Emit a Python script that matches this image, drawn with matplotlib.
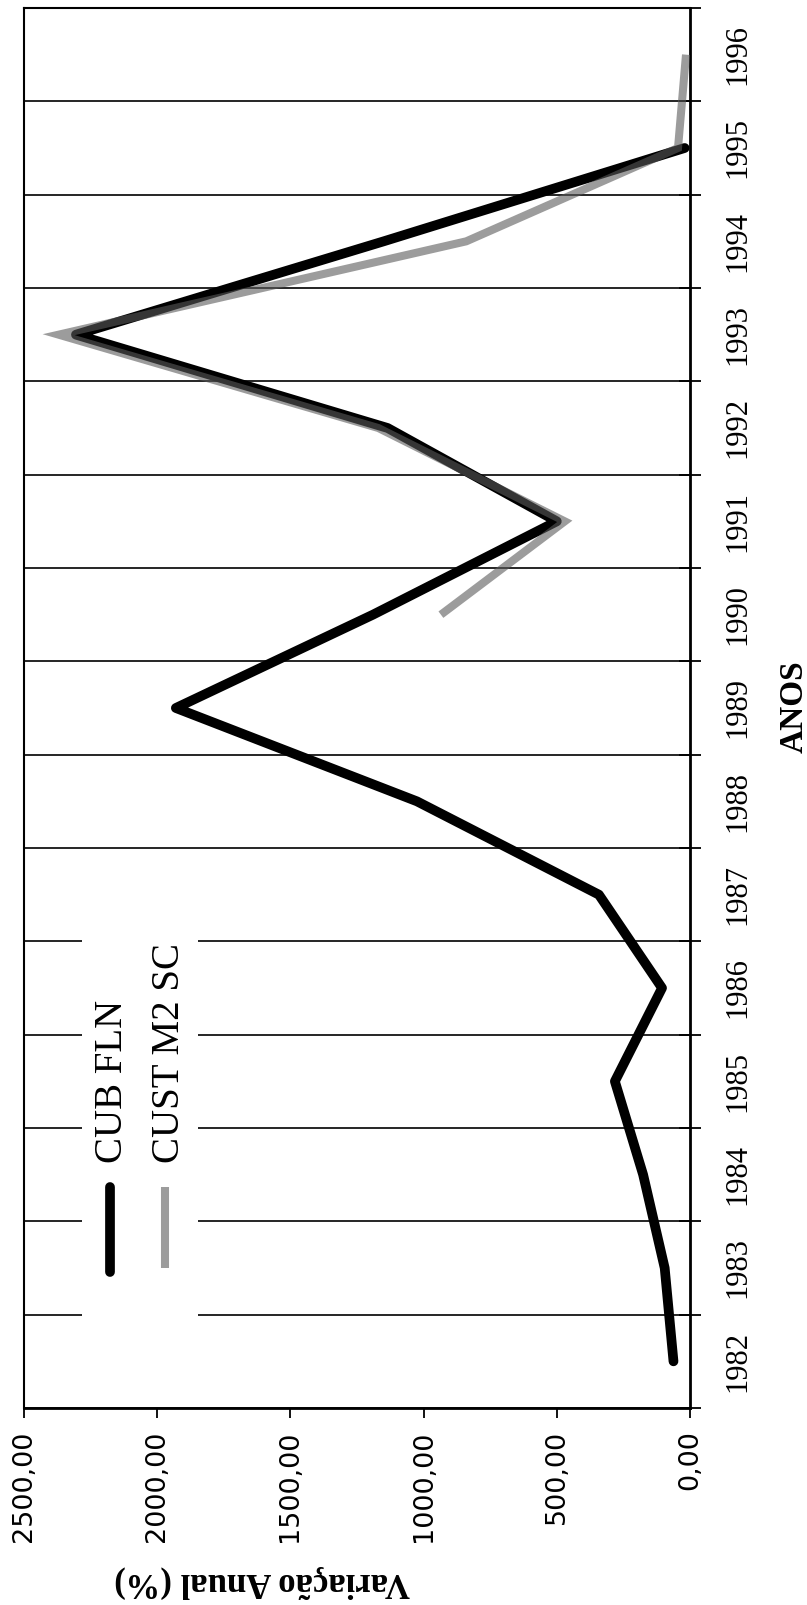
import numpy as np
import matplotlib
matplotlib.use("Agg")
import matplotlib.pyplot as plt
from matplotlib.patches import Rectangle

# ---- data ----
years = [1982, 1983, 1984, 1985, 1986, 1987, 1988, 1989, 1990, 1991, 1992, 1993, 1994, 1995, 1996]
cub_fln = [62, 95, 176, 282, 105, 342, 1025, 1930, 1190, 500, 1135, 2305, 1150, 20, np.nan]
cust_m2_sc = [np.nan, np.nan, np.nan, np.nan, np.nan, np.nan, np.nan, np.nan,
              935, 470, 1170, 2370, 840, 45, 15]
value_ticks = [0, 500, 1000, 1500, 2000, 2500]
value_labels = ["0,00", "500,00", "1000,00", "1500,00", "2000,00", "2500,00"]
series_names = ["CUB FLN", "CUST M2 SC"]

W, H = 807, 1605
fig = plt.figure(figsize=(W / 100, H / 100), dpi=100)
fig.patch.set_facecolor("white")
ax = fig.add_axes([24 / W, (H - 1408) / H, 666 / W, 1400 / H])

serif = ["Liberation Serif", "DejaVu Serif"]
gray = "#5a5a5a"

ax.plot(cub_fln, years, color="black", lw=7, solid_capstyle="round",
        solid_joinstyle="round", zorder=3)
ax.plot(cust_m2_sc, years, color=gray, alpha=0.6, lw=5.8,
        solid_capstyle="butt", solid_joinstyle="miter", zorder=4)

ax.set_xlim(2500, 0)
ax.set_ylim(years[0] - 0.5, years[-1] + 0.5)

# value axis (bottom)
ax.set_xticks(value_ticks)
ax.set_xticklabels(value_labels, rotation=90, fontsize=19.5, family="DejaVu Sans")
ax.tick_params(axis="x", direction="out", length=7, width=1.3, pad=9, color="black")

# year axis (right)
ax.yaxis.tick_right()
bounds = [y - 0.5 for y in years] + [years[-1] + 0.5]
ax.set_yticks(bounds)
ax.set_yticklabels([""] * len(bounds))
ax.set_yticks(years, minor=True)
ax.set_yticklabels([str(y) for y in years], minor=True, rotation=90,
                   va="center", fontsize=22, family=serif)
ax.tick_params(axis="y", which="major", direction="inout", length=16, width=1.3)
ax.tick_params(axis="y", which="minor", length=0, pad=24)
ax.grid(axis="y", which="major", color="black", lw=1.2)

for side, sp in ax.spines.items():
    sp.set_color("black")
    sp.set_linewidth(1.5)
ax.spines["right"].set_linewidth(2.0)
ax.spines["bottom"].set_linewidth(2.0)

# legend (rotated, drawn manually)
ax.add_patch(Rectangle((0.087, 0.056), 0.174, 0.335, transform=ax.transAxes,
                       facecolor="white", edgecolor="none", zorder=2))
ax.plot([0.129, 0.129], [0.097, 0.158], transform=ax.transAxes, color="black",
        lw=7, solid_capstyle="round", zorder=5)
ax.plot([0.212, 0.212], [0.100, 0.158], transform=ax.transAxes, color=gray,
        alpha=0.6, lw=5.8, solid_capstyle="butt", zorder=5)
ax.text(0.133, 0.175, series_names[0], transform=ax.transAxes, rotation=90,
        ha="center", va="bottom", fontsize=28, family=serif, zorder=5)
ax.text(0.219, 0.175, series_names[1], transform=ax.transAxes, rotation=90,
        ha="center", va="bottom", fontsize=28, family=serif, zorder=5)

# axis titles
fig.text(794 / W, 1 - 707 / H, "ANOS", rotation=90, ha="center", va="center",
         fontsize=24, fontweight="bold", family=serif)
fig.text(262 / W, 1 - 1582 / H, "Variação Anual (%)", rotation=180, ha="center",
         va="center", fontsize=25, fontweight="bold", family=serif)

fig.savefig("out.png", dpi=100, facecolor="white")
